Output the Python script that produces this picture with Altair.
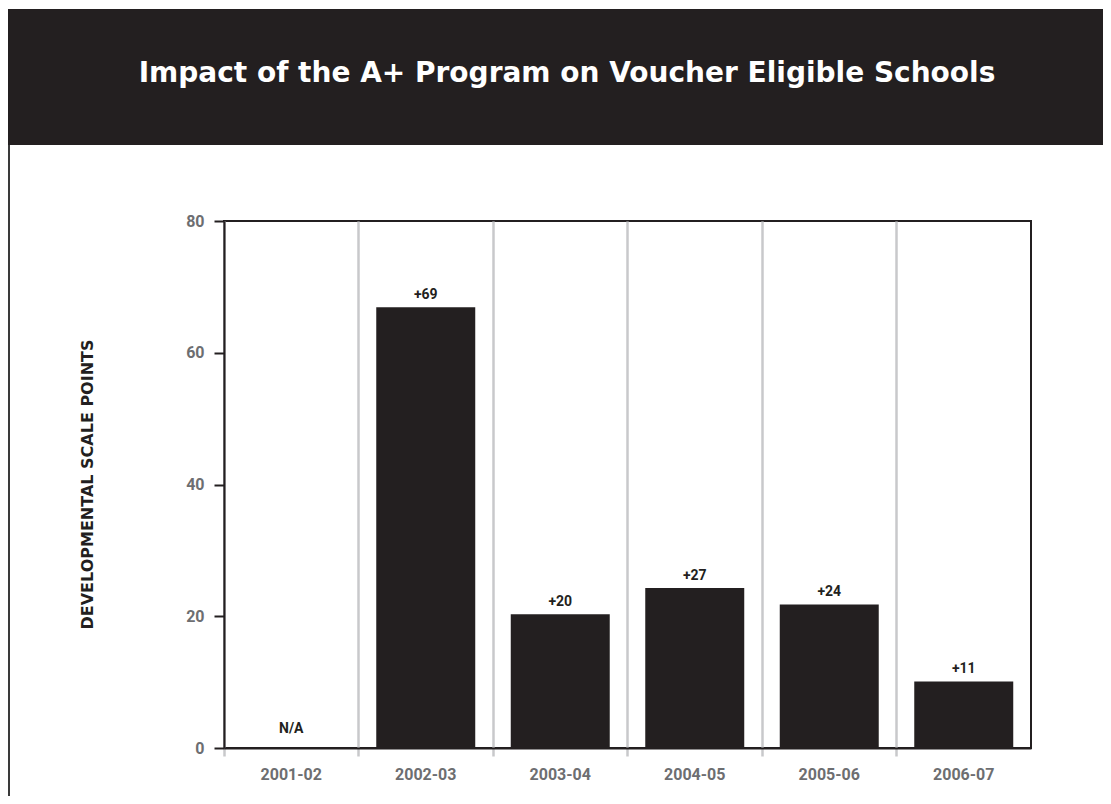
import altair as alt
import pandas as pd

title_text = "Impact of the A+ Program on Voucher Eligible Schools"
y_title = "DEVELOPMENTAL SCALE POINTS"
years = ["2001-02", "2002-03", "2003-04", "2004-05", "2005-06", "2006-07"]
values = [None, 66.9, 20.3, 24.3, 21.8, 10.1]
labels = ["N/A", "+69", "+20", "+27", "+24", "+11"]
y_ticks = [0, 20, 40, 60, 80]

DARK = "#231f20"
GRAY_TXT = "#6d6e71"
GRID = "#c8c9cb"

df = pd.DataFrame({"year": years, "value": values, "label": labels})
one = pd.DataFrame({"t": [title_text]})

W, H = 807, 527
PAD = {"left": 216, "top": 213, "right": 72, "bottom": 48}

x_enc = alt.X(
    "year:N",
    sort=years,
    scale=alt.Scale(domain=years, paddingInner=0, paddingOuter=0),
    axis=alt.Axis(
        title=None, bandPosition=0, grid=True, gridColor=GRID, gridWidth=2.5,
        ticks=True, tickColor=GRID, tickWidth=2.5, tickSize=8,
        domainColor=DARK, domainWidth=2, labelAngle=0,
        labelFont="Roboto", labelFontWeight="bold", labelFontSize=16,
        labelColor=GRAY_TXT, labelPadding=10,
    ),
)
y_enc = alt.Y(
    "value:Q",
    scale=alt.Scale(domain=[0, 80], nice=False),
    axis=alt.Axis(
        values=y_ticks, grid=False, tickColor=DARK, tickWidth=2, tickSize=10,
        domainColor=DARK, domainWidth=2,
        labelFont="Roboto", labelFontWeight="bold", labelFontSize=16,
        labelColor=GRAY_TXT, labelPadding=10,
        title=y_title, titleFont="DejaVu Sans", titleFontWeight="bold",
        titleFontSize=16, titleColor=DARK, titleX=-137, titleY=263,
        titleAngle=-90, titleAlign="center", titleBaseline="middle",
    ),
)

banner = alt.Chart(one).mark_rect(color=DARK).encode(
    x=alt.value(-216), x2=alt.value(W + PAD["right"]),
    y=alt.value(-212), y2=alt.value(-76)
)
border = alt.Chart(one).mark_rule(color="#3a3a3a", strokeWidth=2).encode(
    x=alt.value(-215), y=alt.value(-76), y2=alt.value(H + PAD["bottom"])
)
title = alt.Chart(one).mark_text(
    color="white", font="DejaVu Sans", fontWeight="bold", fontSize=28,
    align="center", baseline="alphabetic"
).encode(x=alt.value(343), y=alt.value(-139), text="t:N")

bars = alt.Chart(df).mark_bar(color=DARK, width=alt.RelativeBandSize(0.736)).encode(
    x=x_enc, y=y_enc
)
vlabels = alt.Chart(df).transform_filter("datum.value != null").mark_text(
    font="Roboto", fontWeight="bold", fontSize=14, color=DARK,
    baseline="alphabetic", dy=-8
).encode(x=alt.X("year:N", sort=years), y="value:Q", text="label:N")
na = alt.Chart(df).transform_filter("datum.value == null").mark_text(
    font="Roboto", fontWeight="bold", fontSize=14, color=DARK,
    baseline="alphabetic", dy=-15
).encode(x=alt.X("year:N", sort=years), y=alt.datum(0), text="label:N")

chart = alt.layer(banner, border, title, bars, vlabels, na).properties(
    width=W, height=H,
    background="white",
    autosize=alt.AutoSizeParams(type="none"),
    padding=PAD,
).configure_view(stroke=DARK, strokeWidth=2)

chart.save("out.html", embed_options={"renderer": "svg", "actions": False})
